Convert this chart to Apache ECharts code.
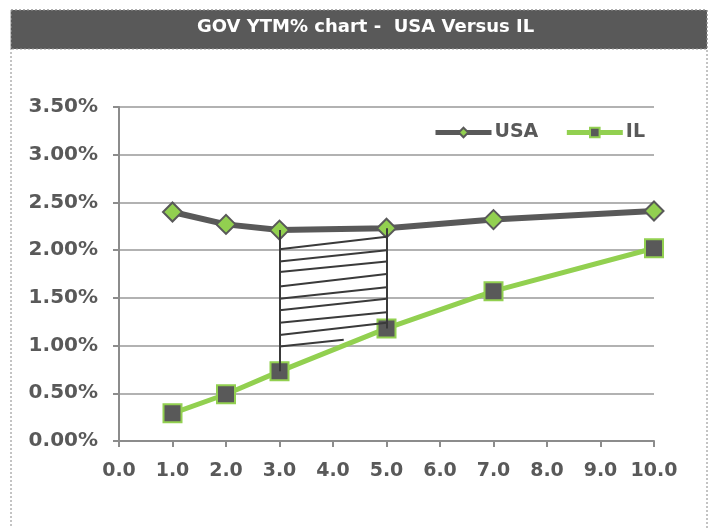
<!DOCTYPE html>
<html>
<head>
<meta charset="utf-8">
<script src="https://cdn.jsdelivr.net/npm/echarts@6/dist/echarts.min.js"></script>
<style>html,body{margin:0;padding:0;background:#fff}#c{width:713px;height:528px}</style>
</head>
<body>
<div id="c"></div>
<script>
const maturities = [1, 2, 3, 5, 7, 10];
const usaYield = [2.40, 2.27, 2.21, 2.23, 2.32, 2.41];
const ilYield = [0.29, 0.49, 0.73, 1.18, 1.57, 2.02];
// hatch annotation: left/right ends of each hatch stroke
const hatchX0 = [3, 3, 3, 3, 3, 3, 3, 3, 3];
const hatchY0 = [2.01, 1.88, 1.77, 1.62, 1.49, 1.37, 1.24, 1.11, 0.99];
const hatchX1 = [5, 5, 5, 5, 5, 5, 5, 5, 4.2];
const hatchY1 = [2.14, 2.00, 1.88, 1.75, 1.61, 1.49, 1.35, 1.24, 1.06];
// vertical borders of the hatched area
const borderX = [3, 5];
const borderTop = [2.21, 2.23];
const borderBottom = [0.73, 1.18];

const DARK = '#595959', GREEN = '#92d050';
const FONT = 'DejaVu Sans';

const markData = [];
for (let i = 0; i < hatchX0.length; i++) {
  markData.push([{coord: [hatchX0[i], hatchY0[i]]}, {coord: [hatchX1[i], hatchY1[i]]}]);
}
for (let i = 0; i < borderX.length; i++) {
  markData.push([{coord: [borderX[i], borderTop[i]]}, {coord: [borderX[i], borderBottom[i]]}]);
}

const chart = echarts.init(document.getElementById('c'));
chart.setOption({
  animation: false,
  graphic: [
    {type: 'rect', shape: {x: 11, y: 10, width: 696, height: 530},
     style: {fill: 'none', stroke: '#888', lineWidth: 1, lineDash: [2, 2]}, z: 0},
    {type: 'rect', shape: {x: 11, y: 10, width: 696, height: 39},
     style: {fill: DARK, stroke: '#999', lineWidth: 1, lineDash: [2, 2]}, z: 1}
  ],
  title: {
    text: 'GOV YTM% chart -  USA Versus IL',
    left: 192, top: 13,
    textStyle: {color: '#fff', fontFamily: FONT, fontWeight: 'bold', fontSize: 18}
  },
  legend: {
    left: 428, top: 118,
    itemWidth: 56, itemHeight: 12, itemGap: 26,
    textStyle: {color: DARK, fontFamily: FONT, fontWeight: 'bold', fontSize: 19, padding: [0, 0, 0, -2]},
    data: [
      {name: 'USA', lineStyle: {width: 5}},
      {name: 'IL', lineStyle: {width: 5}}
    ]
  },
  grid: {left: 119, right: 59, top: 107, bottom: 87, containLabel: false},
  xAxis: {
    type: 'value', min: 0, max: 10, interval: 1,
    axisLine: {show: true, lineStyle: {color: '#8c8c8c', width: 2}},
    axisTick: {show: true, length: 6, lineStyle: {color: '#8c8c8c', width: 2}},
    splitLine: {show: false},
    axisLabel: {color: DARK, fontFamily: FONT, fontWeight: 'bold', fontSize: 19, margin: 21,
      formatter: v => v.toFixed(1)}
  },
  yAxis: {
    type: 'value', min: 0, max: 3.5, interval: 0.5,
    axisLine: {show: true, lineStyle: {color: '#8c8c8c', width: 2}},
    axisTick: {show: true, inside: false, length: 6, lineStyle: {color: '#8c8c8c', width: 2}},
    splitLine: {show: true, lineStyle: {color: '#999', width: 1.5}},
    axisLabel: {color: DARK, fontFamily: FONT, fontWeight: 'bold', fontSize: 20, margin: 21,
      formatter: v => v.toFixed(2) + '%'}
  },
  series: [
    {
      name: 'USA', type: 'line',
      data: maturities.map((m, i) => [m, usaYield[i]]),
      lineStyle: {color: DARK, width: 6},
      itemStyle: {color: GREEN, borderColor: DARK, borderWidth: 2},
      symbol: 'diamond', symbolSize: 19, z: 3,
      markLine: {
        silent: true, symbol: 'none', label: {show: false},
        lineStyle: {color: '#3a3a3a', width: 2, type: 'solid'},
        data: markData
      }
    },
    {
      name: 'IL', type: 'line',
      data: maturities.map((m, i) => [m, ilYield[i]]),
      lineStyle: {color: GREEN, width: 5},
      itemStyle: {color: DARK, borderColor: GREEN, borderWidth: 2},
      symbol: 'rect', symbolSize: 18, z: 4
    }
  ]
});
</script>
</body>
</html>
